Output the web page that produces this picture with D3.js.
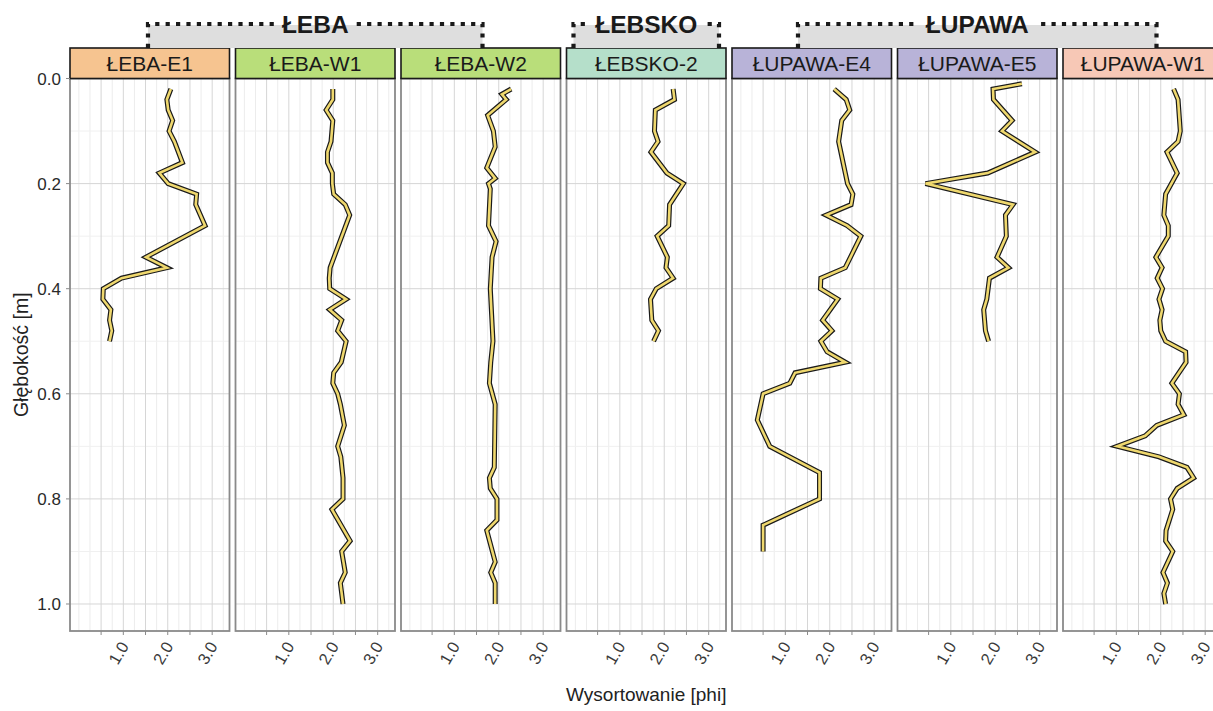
<!DOCTYPE html>
<html lang="pl">
<head>
<meta charset="UTF-8">
<title>Wysortowanie</title>
<script src="https://d3js.org/d3.v7.min.js"></script>
<style>
  body { margin: 0; background: #fff; }
  text { font-family: "Liberation Sans", Arial, sans-serif; }
</style>
</head>
<body>
<svg width="1213" height="711"></svg>
<script>
// panels (facets) and strip colours
const panels = ["ŁEBA-E1", "ŁEBA-W1", "ŁEBA-W2", "ŁEBSKO-2", "ŁUPAWA-E4", "ŁUPAWA-E5", "ŁUPAWA-W1"];
const stripColors = ["#f6c490", "#b9de7a", "#b9de7a", "#b5dfca", "#b8b3d8", "#b8b3d8", "#f7c8b6"];

// groups drawn above the strips
const groups = ["ŁEBA", "ŁEBSKO", "ŁUPAWA"];
const groupFirst = [0, 3, 4];
const groupLast = [2, 3, 6];

// depth [m] and sorting [phi] per profile
const depthE1 = [0.02, 0.04, 0.06, 0.08, 0.10, 0.12, 0.16, 0.18, 0.20, 0.22, 0.24, 0.28, 0.34, 0.36, 0.38, 0.40, 0.42, 0.44, 0.46, 0.48, 0.50];
const phiE1 = [2.07, 1.98, 2.01, 2.11, 2.03, 2.15, 2.33, 1.81, 2.01, 2.65, 2.63, 2.84, 1.51, 1.98, 0.96, 0.55, 0.54, 0.72, 0.69, 0.74, 0.69];

const depthW1 = [0.02, 0.04, 0.06, 0.08, 0.12, 0.14, 0.16, 0.18, 0.20, 0.22, 0.24, 0.26, 0.36, 0.38, 0.40, 0.42, 0.44, 0.46, 0.48, 0.50, 0.54, 0.56, 0.58, 0.60, 0.62, 0.66, 0.70, 0.72, 0.76, 0.80, 0.82, 0.88, 0.90, 0.94, 0.96, 1.00];
const phiW1 = [1.99, 1.99, 1.84, 1.99, 1.95, 1.87, 1.87, 1.98, 1.98, 2.01, 2.27, 2.37, 1.93, 1.91, 1.92, 2.29, 1.92, 2.19, 2.10, 2.29, 2.18, 2.01, 1.99, 2.10, 2.16, 2.25, 2.10, 2.17, 2.22, 2.22, 1.97, 2.38, 2.19, 2.27, 2.16, 2.22];

const depthW2 = [0.02, 0.03, 0.04, 0.07, 0.10, 0.13, 0.17, 0.19, 0.20, 0.21, 0.28, 0.31, 0.34, 0.40, 0.45, 0.50, 0.54, 0.58, 0.62, 0.74, 0.76, 0.78, 0.80, 0.84, 0.86, 0.92, 0.94, 0.96, 1.00];
const phiW2 = [2.28, 2.07, 2.17, 1.75, 1.88, 1.92, 1.73, 1.92, 1.77, 1.81, 1.77, 1.94, 1.85, 1.81, 1.84, 1.87, 1.82, 1.79, 1.92, 1.90, 1.79, 1.81, 1.96, 1.96, 1.73, 1.92, 1.82, 1.92, 1.92];

const depthL2 = [0.02, 0.04, 0.06, 0.10, 0.12, 0.14, 0.18, 0.20, 0.24, 0.28, 0.30, 0.34, 0.36, 0.38, 0.40, 0.42, 0.46, 0.48, 0.50];
const phiL2 = [2.20, 2.23, 1.80, 1.78, 1.86, 1.70, 2.06, 2.43, 2.12, 2.10, 1.84, 2.07, 2.04, 2.20, 1.82, 1.69, 1.72, 1.87, 1.76];

const depthE4 = [0.02, 0.04, 0.06, 0.08, 0.12, 0.20, 0.22, 0.24, 0.26, 0.28, 0.30, 0.36, 0.38, 0.40, 0.42, 0.46, 0.48, 0.50, 0.52, 0.54, 0.56, 0.58, 0.60, 0.65, 0.70, 0.75, 0.80, 0.85, 0.90];
const phiE4 = [2.10, 2.37, 2.45, 2.27, 2.20, 2.40, 2.52, 2.48, 1.92, 2.39, 2.70, 2.35, 1.80, 1.79, 2.18, 1.84, 2.05, 1.80, 1.94, 2.35, 1.22, 1.10, 0.50, 0.37, 0.65, 1.77, 1.77, 0.50, 0.50];

const depthE5 = [0.01, 0.02, 0.04, 0.08, 0.10, 0.14, 0.18, 0.20, 0.24, 0.26, 0.30, 0.34, 0.36, 0.38, 0.42, 0.44, 0.48, 0.50];
const phiE5 = [2.60, 1.95, 1.96, 2.38, 2.15, 2.90, 1.83, 0.43, 2.40, 2.23, 2.25, 2.04, 2.30, 1.87, 1.81, 1.74, 1.78, 1.85];

const depthLW1 = [0.02, 0.04, 0.10, 0.12, 0.14, 0.18, 0.22, 0.26, 0.28, 0.30, 0.34, 0.36, 0.38, 0.40, 0.42, 0.44, 0.46, 0.48, 0.50, 0.52, 0.54, 0.58, 0.60, 0.62, 0.64, 0.66, 0.68, 0.70, 0.72, 0.74, 0.76, 0.78, 0.80, 0.82, 0.86, 0.88, 0.90, 0.94, 0.96, 0.98, 1.00];
const phiLW1 = [2.29, 2.39, 2.44, 2.39, 2.14, 2.37, 2.11, 2.07, 2.17, 2.17, 1.89, 2.03, 1.92, 2.04, 1.96, 2.03, 1.98, 2.00, 2.11, 2.56, 2.57, 2.25, 2.42, 2.39, 2.52, 1.91, 1.65, 1.02, 1.96, 2.59, 2.74, 2.37, 2.22, 2.27, 2.12, 2.11, 2.27, 2.05, 2.15, 2.07, 2.11];

const depths = [depthE1, depthW1, depthW2, depthL2, depthE4, depthE5, depthLW1];
const phis = [phiE1, phiW1, phiW2, phiL2, phiE4, phiE5, phiLW1];

// axis ticks
const xMajor = [0.5, 1.0, 1.5, 2.0, 2.5, 3.0];
const xLabels = ["", "1.0", "", "2.0", "", "3.0"];
const xMinor = [0, 0.25, 0.75, 1.25, 1.75, 2.25, 2.75, 3.25];
const yMajor = [0, 0.2, 0.4, 0.6, 0.8, 1.0];
const yMinor = [0.1, 0.3, 0.5, 0.7, 0.9];

// layout
const mLeft = 70, mTop = 78.5, mBottom = 631;
const panelW = 159.5, gap = 6;
const stripTop = 48;
const headInset = [78, 7, 66];

const svg = d3.select("svg");
const y = d3.scaleLinear().domain([0, 1.0514]).range([mTop, mBottom]);
const x = d3.scaleLinear().domain([-0.2, 3.39]).range([0, panelW]);
const px = i => mLeft + i * (panelW + gap);

const line = d3.line().x(d => x(d[1])).y(d => y(d[0]));

panels.forEach((name, i) => {
  const g = svg.append("g").attr("transform", `translate(${px(i)},0)`);

  g.selectAll(".vmin").data(xMinor).enter().append("line")
    .attr("x1", d => x(d)).attr("x2", d => x(d)).attr("y1", mTop).attr("y2", mBottom)
    .attr("stroke", "#ececec").attr("stroke-width", 1);
  g.selectAll(".hmin").data(yMinor).enter().append("line")
    .attr("x1", 0).attr("x2", panelW).attr("y1", d => y(d)).attr("y2", d => y(d))
    .attr("stroke", "#f0f0f0").attr("stroke-width", 1);
  g.selectAll(".vmaj").data(xMajor).enter().append("line")
    .attr("x1", d => x(d)).attr("x2", d => x(d)).attr("y1", mTop).attr("y2", mBottom)
    .attr("stroke", "#d6d6d6").attr("stroke-width", 1);
  g.selectAll(".hmaj").data(yMajor).enter().append("line")
    .attr("x1", 0).attr("x2", panelW).attr("y1", d => y(d)).attr("y2", d => y(d))
    .attr("stroke", "#d6d6d6").attr("stroke-width", 1);

  const pts = depths[i].map((d, k) => [d, phis[i][k]]);
  g.append("path").attr("d", line(pts)).attr("fill", "none")
    .attr("stroke", "#1a1a1a").attr("stroke-width", 5).attr("stroke-linejoin", "miter");
  g.append("path").attr("d", line(pts)).attr("fill", "none")
    .attr("stroke", "#efd86e").attr("stroke-width", 2.6).attr("stroke-linejoin", "miter");

  g.append("rect").attr("x", 0).attr("y", mTop).attr("width", panelW).attr("height", mBottom - mTop)
    .attr("fill", "none").attr("stroke", "#8a8a8a").attr("stroke-width", 1.8);

  // strip
  g.append("rect").attr("x", 0).attr("y", stripTop).attr("width", panelW).attr("height", mTop - stripTop)
    .attr("fill", stripColors[i]).attr("stroke", "#1a1a1a").attr("stroke-width", 1.6);
  g.append("text").attr("x", panelW / 2).attr("y", (stripTop + mTop) / 2 + 7.5)
    .attr("text-anchor", "middle").attr("font-size", 21).attr("fill", "#1a1a1a").text(name);

  // x ticks
  g.selectAll(".xt").data(xMajor).enter().append("line")
    .attr("x1", d => x(d)).attr("x2", d => x(d)).attr("y1", mBottom).attr("y2", mBottom + 4)
    .attr("stroke", "#8a8a8a").attr("stroke-width", 1);
  g.selectAll(".xl").data(xMajor).enter().append("text")
    .attr("transform", d => `translate(${x(d) + 6},${mBottom + 15}) rotate(-60)`)
    .attr("text-anchor", "end").attr("font-size", 16.5).attr("fill", "#3a3a3a")
    .text((d, k) => xLabels[k]);
});

// y axis
svg.selectAll(".yt").data(yMajor).enter().append("line")
  .attr("x1", mLeft - 4).attr("x2", mLeft).attr("y1", d => y(d)).attr("y2", d => y(d))
  .attr("stroke", "#8a8a8a");
svg.selectAll(".yl").data(yMajor).enter().append("text")
  .attr("x", mLeft - 9).attr("y", d => y(d) + 6)
  .attr("text-anchor", "end").attr("font-size", 17).attr("fill", "#2a2a2a")
  .text(d => d.toFixed(1));

svg.append("text").attr("transform", `translate(28,${(mTop + mBottom) / 2}) rotate(-90)`)
  .attr("text-anchor", "middle").attr("font-size", 19.5).attr("fill", "#222").text("Głębokość [m]");
svg.append("text").attr("x", (mLeft + px(6) + panelW) / 2).attr("y", 701)
  .attr("text-anchor", "middle").attr("font-size", 19).attr("fill", "#222").text("Wysortowanie [phi]");

// group headers
groups.forEach((name, j) => {
  const x0 = px(groupFirst[j]) + headInset[j];
  const x1 = px(groupLast[j]) + panelW - headInset[j];
  const lineY = 24;
  svg.append("rect").attr("x", x0).attr("y", 25).attr("width", x1 - x0).attr("height", stripTop - 25)
    .attr("fill", "#dedede");
  const t = svg.append("text").attr("x", (x0 + x1) / 2).attr("y", 32.5)
    .attr("text-anchor", "middle").attr("font-size", 24.5).attr("font-weight", "bold")
    .attr("fill", "#1a1a1a").text(name);
  const tw = t.node().getComputedTextLength();
  const gl = (x0 + x1) / 2 - tw / 2 - 8, gr = (x0 + x1) / 2 + tw / 2 + 8;
  const dot = { "stroke": "#1a1a1a", "stroke-width": 4.2, "fill": "none", "stroke-dasharray": "4.2 6.2" };
  const a = svg.append("path").attr("d", `M${x0},${stripTop}V${lineY}H${gl}`);
  const b = svg.append("path").attr("d", `M${x1},${stripTop}V${lineY}H${gr}`);
  [a, b].forEach(p => Object.entries(dot).forEach(([k, v]) => p.attr(k, v)));
});
</script>
</body>
</html>
